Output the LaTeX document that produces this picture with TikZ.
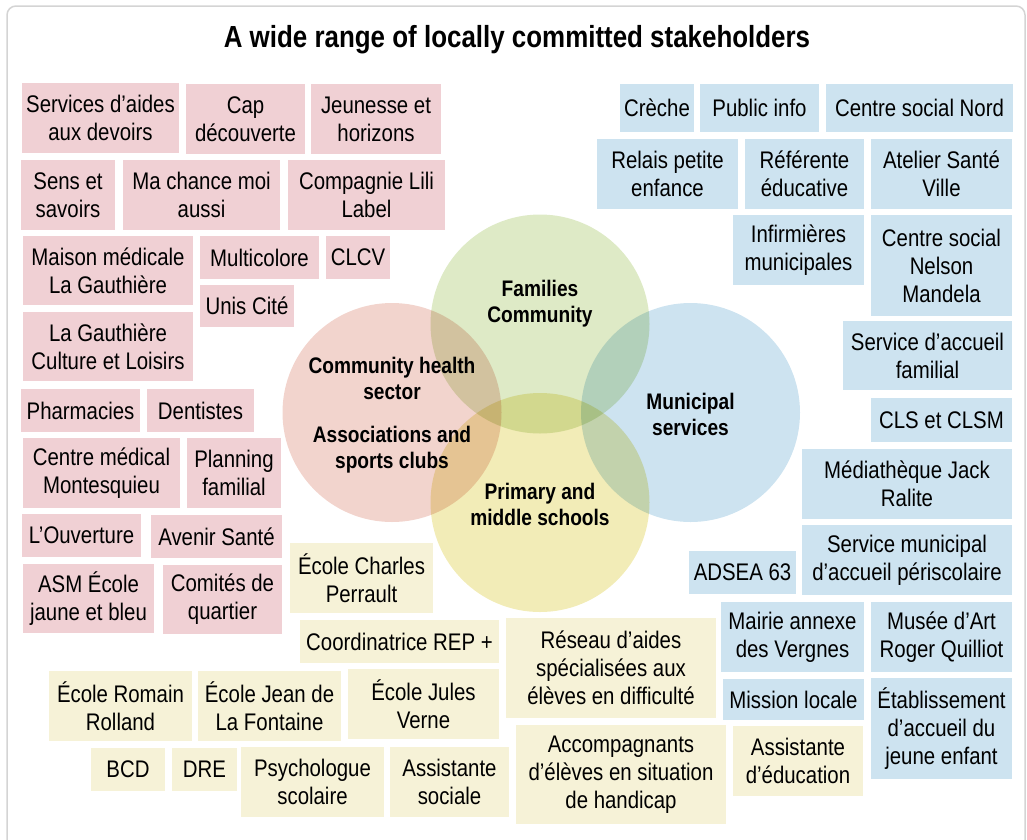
\documentclass[tikz,border=0pt]{standalone}
\usepackage{fontspec}
\setmainfont{Liberation Sans}[FakeStretch=0.85]
\usetikzlibrary{positioning}
\definecolor{pinkbox}{HTML}{F0D0D4}
\definecolor{bluebox}{HTML}{CDE3F0}
\definecolor{yellowbox}{HTML}{F6F2D7}
\definecolor{healthc}{HTML}{F2D4CD}
\definecolor{familyc}{HTML}{DEEAC6}
\definecolor{municc}{HTML}{CDE3F0}
\definecolor{schoolc}{HTML}{F2ECB7}
\definecolor{framec}{HTML}{D4D4D4}

\begin{document}
\begin{tikzpicture}[x=1pt,y=-1pt,
  stake/.style={inner sep=0pt,align=center,font=\fontsize{24}{28}\selectfont},
  pk/.style={stake,fill=pinkbox},
  bl/.style={stake,fill=bluebox},
  yl/.style={stake,fill=yellowbox},
  sector/.style={align=center,font=\bfseries\fontsize{22.5}{26}\selectfont}]
 \useasboundingbox (0,0) rectangle (1027,839);
 \draw[framec,line width=1.5pt,rounded corners=9pt](7,860)--(7,6)--(1025,6)--(1025,860);
 \node[font=\bfseries\fontsize{30.5}{34}\selectfont] (title) at (517,40) {A wide range of locally committed stakeholders};

 \begin{scope}[blend group=multiply]
 \fill[healthc] (392,412.5) circle (109.5);
 \fill[familyc] (540,324) circle (109.5);
 \fill[municc] (690.5,412.5) circle (109.5);
 \fill[schoolc] (540,502.5) circle (109.5);
 \end{scope}
 \node[sector] (health) at (392,378) {Community health\\sector};
 \node[sector] (assoc) at (392,450) {Associations and\\sports clubs};
 \node[sector] (families) at (540,304) {Families\\Community};
 \node[sector] (municipal) at (690.5,414.5) {Municipal\\services};
 \node[sector] (schools) at (540,504.5) {Primary and\\middle schools};

 \node[pk,minimum width=157,minimum height=70] (devoirs) at (100.5,118) {Services d’aides\\aux devoirs};
 \node[pk,minimum width=119,minimum height=70] (cap) at (245.5,119) {Cap\\découverte};
 \node[pk,minimum width=130,minimum height=70] (jeunesse) at (376,119) {Jeunesse et\\horizons};
 \node[pk,minimum width=94,minimum height=70] (sens) at (68,195) {Sens et\\savoirs};
 \node[pk,minimum width=157,minimum height=70] (chance) at (201.5,195) {Ma chance moi\\aussi};
 \node[pk,minimum width=157,minimum height=70] (lili) at (366.5,195) {Compagnie Lili\\Label};
 \node[pk,minimum width=170,minimum height=69] (maison) at (108,270.5) {Maison médicale\\La Gauthière};
 \node[pk,minimum width=119,minimum height=43] (multicolore) at (259.5,257.5) {Multicolore};
 \node[pk,minimum width=64,minimum height=43] (clcv) at (358,257.5) {CLCV};
 \node[pk,minimum width=94,minimum height=42] (unis) at (247,306) {Unis Cité};
 \node[pk,minimum width=170,minimum height=69] (loisirs) at (108,346.5) {La Gauthière\\Culture et Loisirs};
 \node[pk,minimum width=119,minimum height=43] (pharmacies) at (80.5,410.5) {Pharmacies};
 \node[pk,minimum width=107,minimum height=43] (dentistes) at (200.5,410.5) {Dentistes};
 \node[pk,minimum width=157,minimum height=70] (montesquieu) at (101.5,473) {Centre médical\\Montesquieu};
 \node[pk,minimum width=94,minimum height=70] (planning) at (234,473) {Planning\\familial};
 \node[pk,minimum width=119,minimum height=43] (ouverture) at (81.5,535.5) {L’Ouverture};
 \node[pk,minimum width=131,minimum height=43] (avenir) at (216.5,536.5) {Avenir Santé};
 \node[pk,minimum width=131,minimum height=69] (asm) at (88.5,598.5) {ASM École\\jaune et bleu};
 \node[pk,minimum width=119,minimum height=69] (comites) at (222.5,599.5) {Comités de\\quartier};

 \node[yl,minimum width=143,minimum height=70] (perrault) at (361.5,578) {École Charles\\Perrault};
 \node[yl,minimum width=199,minimum height=43] (rep) at (399.5,641.5) {Coordinatrice REP +};
 \node[yl,minimum width=143,minimum height=70] (rolland) at (120.5,706) {École Romain\\Rolland};
 \node[yl,minimum width=143,minimum height=70] (fontaine) at (269.5,706) {École Jean de\\La Fontaine};
 \node[yl,minimum width=151,minimum height=70] (verne) at (423.5,704) {École Jules\\Verne};
 \node[yl,minimum width=74,minimum height=43] (bcd) at (128,769.5) {BCD};
 \node[yl,minimum width=65,minimum height=43] (dre) at (204.5,769.5) {DRE};
 \node[yl,minimum width=143,minimum height=70] (psychologue) at (312.5,782) {Psychologue\\scolaire};
 \node[yl,minimum width=119,minimum height=70] (sociale) at (449.5,782) {Assistante\\sociale};
 \node[yl,minimum width=210,minimum height=100] (reseau) at (611,668) {Réseau d’aides\\spécialisées aux\\élèves en difficulté};
 \node[yl,minimum width=210,minimum height=99] (handicap) at (621,774.5) {Accompagnants\\d’élèves en situation\\de handicap};
 \node[yl,minimum width=130,minimum height=70] (education) at (798,761) {Assistante\\d’éducation};

 \node[bl,minimum width=74,minimum height=48] (creche) at (657,108) {Crèche};
 \node[bl,minimum width=119,minimum height=48] (publicinfo) at (759.5,108) {Public info};
 \node[bl,minimum width=187,minimum height=48] (nord) at (919.5,108) {Centre social Nord};
 \node[bl,minimum width=141,minimum height=70] (relais) at (667.5,174) {Relais petite\\enfance};
 \node[bl,minimum width=119,minimum height=70] (referente) at (804.5,174) {Référente\\éducative};
 \node[bl,minimum width=141,minimum height=70] (atelier) at (941.5,174) {Atelier Santé\\Ville};
 \node[bl,minimum width=131,minimum height=70] (infirmieres) at (798.5,250) {Infirmières\\municipales};
 \node[bl,minimum width=141,minimum height=101] (mandela) at (941.5,265.5) {Centre social\\Nelson\\Mandela};
 \node[bl,minimum width=169,minimum height=69] (familial) at (927.5,355.5) {Service d’accueil\\familial};
 \node[bl,minimum width=141,minimum height=44] (cls) at (941.5,420) {CLS et CLSM};
 \node[bl,minimum width=210,minimum height=70] (mediatheque) at (907,484) {Médiathèque Jack\\Ralite};
 \node[bl,minimum width=210,minimum height=70] (periscolaire) at (907,560) {Service municipal\\d’accueil périscolaire};
 \node[bl,minimum width=107,minimum height=43] (adsea) at (742.5,572.5) {ADSEA 63};
 \node[bl,minimum width=143,minimum height=70] (vergnes) at (792.5,637) {Mairie annexe\\des Vergnes};
 \node[bl,minimum width=141,minimum height=70] (quilliot) at (941.5,637) {Musée d’Art\\Roger Quilliot};
 \node[bl,minimum width=141,minimum height=41] (mission) at (793.5,699.5) {Mission locale};
 \node[bl,minimum width=141,minimum height=101] (etablissement) at (941.5,728.5) {Établissement\\d’accueil du\\jeune enfant};
\end{tikzpicture}
\end{document}
